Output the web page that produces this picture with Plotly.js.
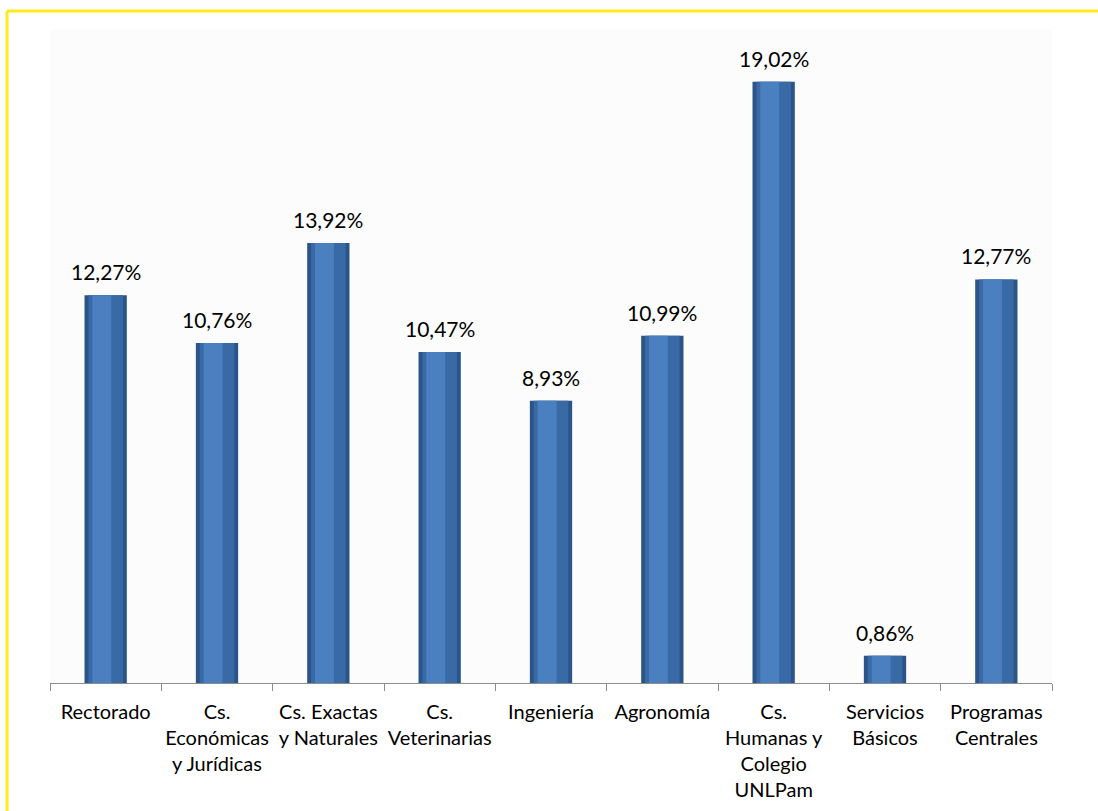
<!DOCTYPE html>
<html>
<head>
<meta charset="utf-8">
<script src="https://cdn.plot.ly/plotly-3.0.1.min.js"></script>
<style>html,body{margin:0;padding:0;background:#fff;}#chart{width:1098px;height:811px;}</style>
</head>
<body>
<div id="chart"></div>
<script>
const categories = ["Rectorado", "Cs.<br>Económicas<br>y Jurídicas", "Cs. Exactas<br>y Naturales", "Cs.<br>Veterinarias", "Ingeniería", "Agronomía", "Cs.<br>Humanas y<br>Colegio<br>UNLPam", "Servicios<br>Básicos", "Programas<br>Centrales"];
const values = [12.27, 10.76, 13.92, 10.47, 8.93, 10.99, 19.02, 0.86, 12.77];
const valueLabels = values.map(v => v.toFixed(2).replace('.', ',') + '%');

const font = "Lato, 'Open Sans', sans-serif";

const outer = {type:'bar', x:categories, y:values, width:0.38, marker:{color:'#2b5589', line:{width:0}}, hoverinfo:'skip'};
const mid = {type:'bar', x:categories, y:values, width:0.31, marker:{color:'#3a6aa6', line:{width:0}}, hoverinfo:'skip'};
const inner = {type:'bar', x:categories, y:values, width:0.17, offset:-0.12, marker:{color:'#4a7fc0', line:{width:0}}, hoverinfo:'skip'};

const annotations = categories.map((c, i) => ({
  x: c, y: values[i], xref:'x', yref:'y', text: valueLabels[i], showarrow:false,
  yanchor:'bottom', yshift:9, font:{family:font, size:21, color:'#000'}
}));

function px2x(p){ return (p-50)/1002; }
function px2y(p){ return (683-p)/653; }

const shapes = [
  {type:'line', xref:'paper', yref:'paper', x0:px2x(7), x1:px2x(7), y0:px2y(11), y1:px2y(815), line:{color:'#ffec1a', width:3}},
  {type:'line', xref:'paper', yref:'paper', x0:px2x(7), x1:px2x(1100), y0:px2y(11), y1:px2y(11), line:{color:'#ffec1a', width:3}}
];

const layout = {
  width:1098, height:811,
  margin:{l:50, r:46, t:30, b:128},
  paper_bgcolor:'#ffffff', plot_bgcolor:'#fcfcfc',
  barmode:'overlay', showlegend:false,
  xaxis:{showline:true, linecolor:'#8c8c8c', linewidth:1, ticks:'outside', tickson:'boundaries', ticklen:7, tickcolor:'#8c8c8c', tickfont:{family:font, size:20, color:'#000'}, ticklabelstandoff:11, showgrid:false, zeroline:false, fixedrange:true, tickangle:0},
  yaxis:{range:[0, 20.66], visible:false, showgrid:false, zeroline:false, fixedrange:true},
  annotations: annotations,
  shapes: shapes,
  font:{family:font}
};

Plotly.newPlot('chart', [outer, mid, inner], layout, {displayModeBar:false, staticPlot:true});
</script>
</body>
</html>
